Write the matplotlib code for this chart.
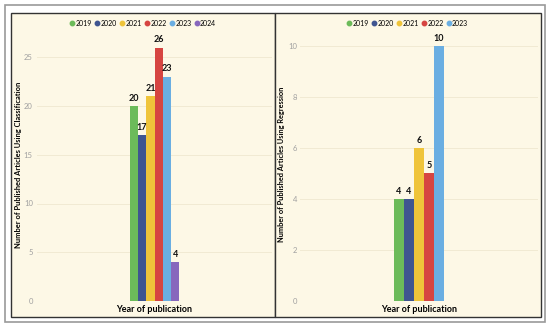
import matplotlib.pyplot as plt
from matplotlib.patches import Rectangle
from matplotlib.lines import Line2D

plt.rcParams['font.family'] = ['Lato', 'DejaVu Sans']

# Data
years_cls = ["2019", "2020", "2021", "2022", "2023", "2024"]
counts_cls = [20, 17, 21, 26, 23, 4]
years_reg = ["2019", "2020", "2021", "2022", "2023"]
counts_reg = [4, 4, 6, 5, 10]

year_colors = {
    "2019": "#6cbb5a",
    "2020": "#3f5590",
    "2021": "#efc43a",
    "2022": "#d64541",
    "2023": "#6aaee2",
    "2024": "#8767bd",
}

cream = "#fdf8e6"
fig = plt.figure(figsize=(5.5, 3.3), dpi=100, facecolor="white")

# outer frame
fig.patches.append(Rectangle((5 / 550, 8 / 330), 540 / 550, 317 / 330, transform=fig.transFigure,
                             facecolor="white", edgecolor="#9a9a9a", lw=1.2, zorder=-2))
# panels
fig.patches.append(Rectangle((11 / 550, 13 / 330), 264 / 550, 304 / 330, transform=fig.transFigure,
                             facecolor=cream, edgecolor="#333333", lw=1.0, zorder=-1))
fig.patches.append(Rectangle((275 / 550, 13 / 330), 266 / 550, 304 / 330, transform=fig.transFigure,
                             facecolor=cream, edgecolor="#333333", lw=1.0, zorder=-1))


def draw_panel(ax, years, counts, ymax, yticks, bar_w, ylabel, tpad, lpad, lfs):
    n = len(years)
    for i, (yr, c) in enumerate(zip(years, counts)):
        x = (i - (n - 1) / 2) * bar_w
        ax.bar(x, c, width=bar_w, color=year_colors[yr], zorder=3)
        ax.text(x, c + ymax * 0.012, str(c), ha="center", va="bottom",
                fontsize=6.5, fontweight="bold", color="#111111", zorder=4)
    ax.set_xlim(-0.5, 0.5)
    ax.set_ylim(0, ymax)
    ax.set_yticks(yticks)
    ax.set_xticks([])
    ax.tick_params(axis="y", length=0, labelsize=5.5, labelcolor="#a0a0a0", pad=tpad)
    ax.grid(axis="y", color="#f1ead3", lw=0.7, zorder=0)
    for s in ax.spines.values():
        s.set_visible(False)
    ax.set_facecolor("none")
    ax.set_xlabel("Year of publication", fontsize=6.5, fontweight="bold", labelpad=3)
    ax.set_ylabel(ylabel, fontsize=lfs, fontweight="bold", labelpad=lpad)
    handles = [Line2D([], [], marker="o", ls="", ms=3.2, color=year_colors[y]) for y in years]
    ax.legend(handles, years, loc="center", bbox_to_anchor=(0.45, 1.018), ncol=len(years),
              frameon=False, fontsize=5.0, handletextpad=0.0, columnspacing=0.35,
              handlelength=0.9, borderpad=0)


ax1 = fig.add_axes([37 / 550, 29 / 330, 235 / 550, 273 / 330])
draw_panel(ax1, years_cls, counts_cls, 28, [0, 5, 10, 15, 20, 25], 0.035,
           "Number of Published Articles Using Classification", 3, 1.5, 5.4)

ax2 = fig.add_axes([300 / 550, 29 / 330, 238 / 550, 273 / 330])
draw_panel(ax2, years_reg, counts_reg, 10.7, [0, 2, 4, 6, 8, 10], 0.042,
           "Number of Published Articles Using Regression", 2, 2.5, 5.3)

plt.savefig("out.png", dpi=100, facecolor="white")
